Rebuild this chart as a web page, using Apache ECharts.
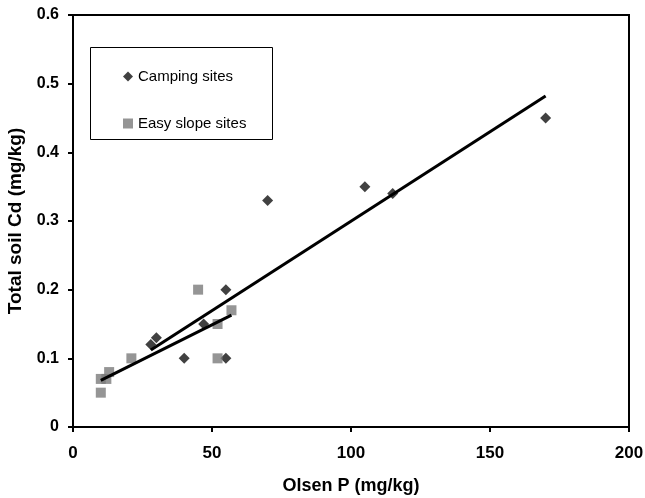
<!DOCTYPE html>
<html>
<head>
<meta charset="utf-8">
<script src="https://cdn.jsdelivr.net/npm/echarts@6/dist/echarts.min.js"></script>
<style>
    html, body { margin: 0; padding: 0; background: #fff; }
    #main { width: 645px; height: 498px; }
</style>
</head>
<body>
<div id="main"></div>
<script>
    // 数据
    var campingSites = [
        [28, 0.12], [30, 0.13], [40, 0.10], [47, 0.15], [55, 0.20], [55, 0.10],
        [70, 0.33], [105, 0.35], [115, 0.34], [170, 0.45]
    ];
    var easySlopeSites = [
        [10, 0.07], [12, 0.07], [10, 0.05], [13, 0.08], [21, 0.10],
        [45, 0.20], [52, 0.15], [52, 0.10], [57, 0.17]
    ];
    // trendline end points
    var campingTrend = [[28, 0.112], [170, 0.482]];
    var easyTrend = [[10, 0.068], [57, 0.163]];

    var chart = echarts.init(document.getElementById('main'));

    var font = 'Liberation Sans, Arial, sans-serif';

    chart.setOption({
        animation: false,
        backgroundColor: '#fff',
        grid: {
            left: 73, right: 16, top: 15, bottom: 71,
            outerBoundsMode: 'none',
            containLabel: false,
            show: true, borderColor: '#000', borderWidth: 2
        },
        xAxis: {
            type: 'value',
            min: 0, max: 200, interval: 50,
            name: 'Olsen P (mg/kg)',
            nameLocation: 'middle',
            nameGap: 50,
            nameTextStyle: { fontFamily: font, fontWeight: 'bold', fontSize: 18, color: '#000' },
            axisLine: { show: true, lineStyle: { color: '#000', width: 2 } },
            axisTick: { show: true, length: 5, lineStyle: { color: '#000', width: 2 } },
            axisLabel: { fontFamily: font, fontWeight: 'bold', fontSize: 17, color: '#000', margin: 18 },
            splitLine: { show: false }
        },
        yAxis: {
            type: 'value',
            min: 0, max: 0.6, interval: 0.1,
            name: 'Total soil Cd (mg/kg)',
            nameLocation: 'middle',
            nameGap: 48,
            nameTextStyle: { fontFamily: font, fontWeight: 'bold', fontSize: 19, color: '#000' },
            axisLine: { show: true, lineStyle: { color: '#000', width: 2 } },
            axisTick: { show: true, length: 5, lineStyle: { color: '#000', width: 2 } },
            axisLabel: { fontFamily: font, fontWeight: 'bold', fontSize: 16, color: '#000', margin: 14 },
            splitLine: { show: false }
        },
        legend: {
            orient: 'vertical',
            left: 118, top: 64,
            itemGap: 32,
            itemWidth: 10, itemHeight: 10,
            textStyle: { fontFamily: font, fontSize: 15, color: '#000' },
            data: ['Camping sites', 'Easy slope sites']
        },
        graphic: [{
            type: 'rect',
            shape: { x: 90.5, y: 47.5, width: 182, height: 92 },
            style: { fill: 'none', stroke: '#000', lineWidth: 1 },
            z: 1
        }],
        series: [
            {
                name: 'Camping sites', type: 'scatter',
                symbol: 'diamond', symbolSize: 11,
                itemStyle: { color: '#111' },
                data: campingSites
            },
            {
                name: 'Easy slope sites', type: 'scatter',
                symbol: 'rect', symbolSize: 10,
                itemStyle: { color: '#7a7a7a' },
                data: easySlopeSites
            },
            {
                type: 'line', showSymbol: false, symbol: 'none',
                lineStyle: { color: '#000', width: 3 },
                data: campingTrend, z: 3
            },
            {
                type: 'line', showSymbol: false, symbol: 'none',
                lineStyle: { color: '#000', width: 3 },
                data: easyTrend, z: 3
            }
        ]
    });
</script>
</body>
</html>
